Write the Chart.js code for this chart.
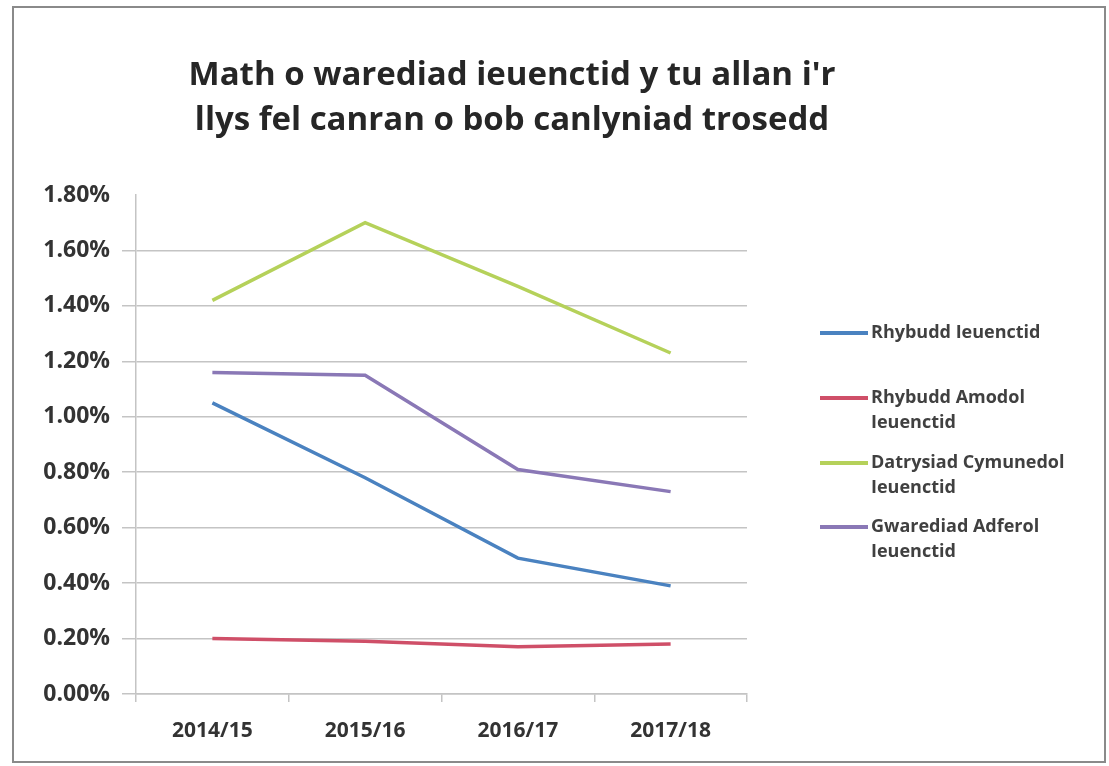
<!DOCTYPE html>
<html>
<head>
<meta charset="utf-8">
<script src="https://cdn.jsdelivr.net/npm/chart.js@4.4.1/dist/chart.umd.min.js"></script>
<style>
  html, body { margin: 0; padding: 0; background: #fff; }
  #wrap { position: relative; width: 1109px; height: 766px; }
  #frame { position: absolute; left: 12px; top: 6px; right: 3px; bottom: 3px; border: 2px solid #8a8a8a; pointer-events: none; }
</style>
</head>
<body>
<div id="wrap">
  <canvas id="chart" width="1109" height="766"></canvas>
  <div id="frame"></div>
</div>
<script>
// Math o warediad ieuenctid y tu allan i'r llys fel canran o bob canlyniad trosedd
var titleLines = ["Math o warediad ieuenctid y tu allan i'r", "llys fel canran o bob canlyniad trosedd"];
var years = ["2014/15", "2015/16", "2016/17", "2017/18"];

// values in percent
var rhybudd = [1.05, 0.78, 0.49, 0.39];
var rhybuddAmodol = [0.20, 0.19, 0.17, 0.18];
var datrysiad = [1.42, 1.70, 1.47, 1.23];
var gwarediad = [1.16, 1.15, 0.81, 0.73];

var seriesNames = [
  ["Rhybudd Ieuenctid"],
  ["Rhybudd Amodol", "Ieuenctid"],
  ["Datrysiad Cymunedol", "Ieuenctid"],
  ["Gwarediad Adferol", "Ieuenctid"]
];
var seriesColors = ["#4a82c0", "#cf4f68", "#b5d15a", "#8a78b6"];

var yMin = 0, yMax = 1.8, yStep = 0.2;

var FONT = "'Open Sans', Lato, 'Liberation Sans', sans-serif";
var textColor = "#333333";
var legendRowY = [333, 398, 463, 527];

var titlePlugin = {
  id: "drawTitle",
  afterDraw: function (chart) {
    var ctx = chart.ctx;
    ctx.save();
    ctx.fillStyle = "#262626";
    ctx.font = "bold 33px " + FONT;
    ctx.textAlign = "center";
    ctx.textBaseline = "middle";
    titleLines.forEach(function (t, i) {
      ctx.fillText(t, 512, 76 + i * 45);
    });
    ctx.restore();
  }
};

var legendPlugin = {
  id: "sideLegend",
  afterDraw: function (chart) {
    var ctx = chart.ctx;
    ctx.save();
    ctx.font = "bold 18px " + FONT;
    ctx.textBaseline = "middle";
    ctx.textAlign = "left";
    chart.data.datasets.forEach(function (ds, i) {
      var y = legendRowY[i];
      ctx.strokeStyle = ds.borderColor;
      ctx.lineWidth = 4;
      ctx.beginPath();
      ctx.moveTo(820, y);
      ctx.lineTo(868, y);
      ctx.stroke();
      ctx.fillStyle = "#404040";
      seriesNames[i].forEach(function (line, j) {
        ctx.fillText(line, 871, y + j * 25);
      });
    });
    ctx.restore();
  }
};

function makeSet(i, values) {
  return {
    label: seriesNames[i].join(" "),
    data: values,
    borderColor: seriesColors[i],
    backgroundColor: seriesColors[i],
    borderWidth: 3.5,
    pointRadius: 0,
    tension: 0,
    fill: false
  };
}

new Chart(document.getElementById("chart"), {
  type: "line",
  data: {
    labels: years,
    datasets: [
      makeSet(0, rhybudd),
      makeSet(1, rhybuddAmodol),
      makeSet(2, datrysiad),
      makeSet(3, gwarediad)
    ]
  },
  options: {
    responsive: false,
    animation: false,
    layout: { padding: { left: 0, right: 362, top: 195, bottom: 0 } },
    plugins: {
      legend: { display: false },
      title: { display: false },
      tooltip: { enabled: false }
    },
    scales: {
      x: {
        offset: true,
        afterFit: function (scale) { scale.height = 72; },
        border: { display: true, color: "#c4c4c4", width: 1.5 },
        grid: { offset: true, drawOnChartArea: false, drawTicks: true, tickLength: 8, color: "#c4c4c4", lineWidth: 1.5 },
        ticks: { color: textColor, padding: 16, font: { family: FONT, size: 21, weight: "bold" } }
      },
      y: {
        min: yMin,
        max: yMax,
        afterFit: function (scale) { scale.width = 136; },
        border: { display: true, color: "#c4c4c4", width: 1.5 },
        grid: {
          tickLength: 14,
          lineWidth: 1.5,
          color: function (c) { return c.tick && c.tick.value >= yMax - 0.001 ? "rgba(0,0,0,0)" : "#c4c4c4"; }
        },
        ticks: {
          stepSize: yStep,
          color: textColor,
          padding: 12,
          font: { family: FONT, size: 23, weight: "bold" },
          callback: function (v) { return v.toFixed(2) + "%"; }
        }
      }
    }
  },
  plugins: [titlePlugin, legendPlugin]
});
</script>
</body>
</html>
